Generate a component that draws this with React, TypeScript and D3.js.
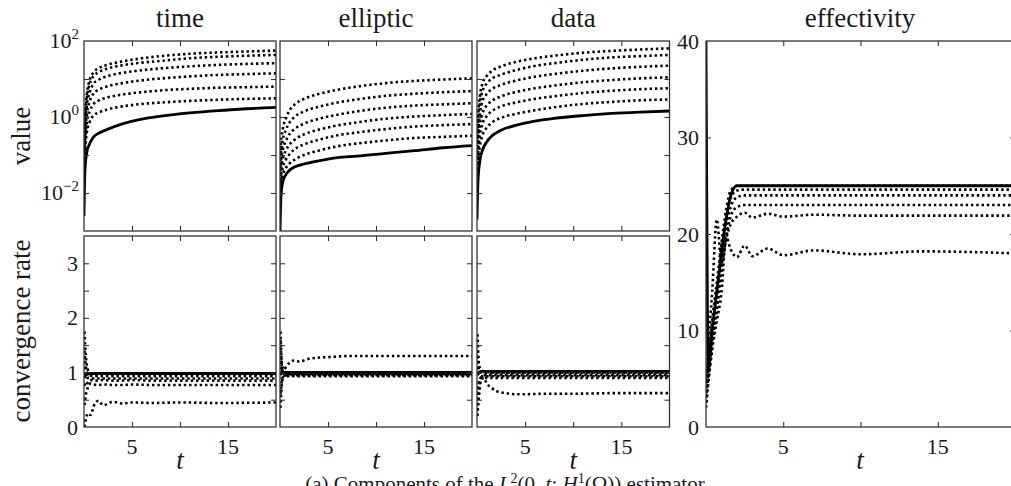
import { useRef, useEffect } from "react";
import * as d3 from "d3";

// time grids
const T_VALUE = [0, 0.1, 0.3, 0.6, 1, 1.5, 2.5, 4, 6, 8, 11, 14, 17, 20];
const T_RATE = [0.05, 0.2, 0.4, 0.7, 1, 1.5, 2, 3, 4, 5, 7, 10, 14, 20];
const T_EFF = [0, 0.15, 0.4, 0.7, 1, 1.3, 1.6, 2, 2.5, 3, 4, 5, 7, 10, 14, 20];

// top row: estimator components (log scale)
const TIME_VALUE_SOLID = [0.0025, 0.04, 0.12, 0.2, 0.3, 0.37, 0.48, 0.66, 0.88, 1.05, 1.28, 1.48, 1.65, 1.8];
const TIME_VALUE_DOTTED = [
  [0.11, 0.9, 4, 9.5, 15, 19, 24, 29, 35, 40, 46, 50, 53, 56],
  [0.09, 0.7, 3.2, 7.5, 12, 15, 19, 23, 27, 30, 35, 38.5, 41, 43],
  [0.07, 0.45, 2.0, 4.5, 7.5, 9.5, 12, 14.5, 17, 19, 21.5, 23.5, 25, 26],
  [0.06, 0.3, 1.2, 2.6, 4.2, 5.2, 6.5, 7.8, 9.2, 10.3, 11.7, 12.8, 13.5, 14.1],
  [0.05, 0.2, 0.7, 1.4, 2.2, 2.7, 3.3, 3.9, 4.5, 5.0, 5.5, 5.9, 6.1, 6.3],
  [0.04, 0.12, 0.4, 0.75, 1.1, 1.3, 1.6, 1.9, 2.2, 2.4, 2.65, 2.85, 3.0, 3.1],
];
const ELLIPTIC_VALUE_SOLID = [0.0008, 0.008, 0.02, 0.03, 0.04, 0.048, 0.058, 0.07, 0.085, 0.093, 0.11, 0.13, 0.155, 0.176];
const ELLIPTIC_VALUE_DOTTED = [
  [0.05, 0.2, 0.5, 0.9, 1.5, 2.1, 3.0, 4.0, 5.2, 6.3, 7.8, 8.9, 9.7, 10.4],
  [0.03, 0.11, 0.26, 0.45, 0.72, 1.0, 1.4, 1.85, 2.4, 2.9, 3.6, 4.1, 4.5, 4.8],
  [0.02, 0.065, 0.14, 0.23, 0.36, 0.48, 0.67, 0.89, 1.15, 1.4, 1.75, 2.0, 2.15, 2.3],
  [0.012, 0.04, 0.08, 0.13, 0.19, 0.25, 0.35, 0.46, 0.6, 0.72, 0.9, 1.03, 1.12, 1.2],
  [0.008, 0.025, 0.048, 0.075, 0.105, 0.14, 0.19, 0.25, 0.33, 0.39, 0.48, 0.56, 0.61, 0.65],
  [0.005, 0.016, 0.03, 0.045, 0.06, 0.075, 0.1, 0.13, 0.17, 0.2, 0.24, 0.28, 0.3, 0.32],
];
const DATA_VALUE_SOLID = [0.002, 0.02, 0.07, 0.14, 0.22, 0.31, 0.45, 0.6, 0.78, 0.92, 1.09, 1.24, 1.35, 1.44];
const DATA_VALUE_DOTTED = [
  [0.1, 0.8, 3.5, 8, 12, 16, 21.5, 28, 35, 41, 49, 55, 60, 64],
  [0.08, 0.5, 2.2, 5, 7.5, 10, 13, 17, 22, 26, 32, 37, 40, 43],
  [0.06, 0.3, 1.2, 2.7, 4, 5.3, 7, 9, 11.5, 13.5, 16.5, 19, 21, 22.4],
  [0.04, 0.16, 0.6, 1.3, 2.0, 2.6, 3.5, 4.5, 5.7, 6.7, 8.2, 9.4, 10.4, 11.1],
  [0.03, 0.1, 0.33, 0.7, 1.05, 1.4, 1.9, 2.4, 3.0, 3.5, 4.3, 4.9, 5.4, 5.7],
  [0.02, 0.06, 0.17, 0.35, 0.52, 0.7, 0.95, 1.2, 1.5, 1.8, 2.2, 2.5, 2.75, 2.9],
];

// bottom row: convergence rates
const TIME_RATE_SOLID = [0.9, 0.95, 0.97, 0.98, 0.98, 0.98, 0.98, 0.98, 0.98, 0.98, 0.98, 0.98, 0.98, 0.98];
const TIME_RATE_DOTTED = [
  [1.75, 1.3, 1.05, 0.99, 0.97, 0.96, 0.96, 0.96, 0.96, 0.96, 0.96, 0.96, 0.96, 0.96],
  [1.4, 1.1, 0.97, 0.94, 0.93, 0.93, 0.93, 0.93, 0.93, 0.93, 0.93, 0.93, 0.93, 0.93],
  [1.1, 0.95, 0.9, 0.9, 0.89, 0.89, 0.89, 0.89, 0.89, 0.89, 0.89, 0.89, 0.89, 0.89],
  [0.8, 0.75, 0.82, 0.86, 0.85, 0.85, 0.86, 0.85, 0.85, 0.86, 0.85, 0.85, 0.85, 0.85],
  [0.4, 0.6, 0.72, 0.8, 0.78, 0.77, 0.78, 0.77, 0.77, 0.78, 0.77, 0.77, 0.77, 0.77],
  [0.0, 0.15, 0.25, 0.22, 0.38, 0.48, 0.4, 0.46, 0.43, 0.45, 0.44, 0.45, 0.44, 0.45],
];
const ELLIPTIC_RATE_SOLID = [0.95, 1.02, 1.0, 1.0, 1.0, 1.0, 1.0, 1.0, 1.0, 1.0, 1.0, 1.0, 1.0, 1.0];
const ELLIPTIC_RATE_DOTTED = [
  [1.6, 1.15, 1.05, 1.12, 1.18, 1.22, 1.2, 1.25, 1.27, 1.28, 1.3, 1.3, 1.3, 1.3],
  [1.75, 1.1, 0.98, 1.0, 0.99, 0.99, 0.99, 0.99, 0.99, 0.99, 0.99, 0.99, 0.99, 0.99],
  [0.35, 0.8, 0.92, 0.96, 0.97, 0.97, 0.97, 0.97, 0.97, 0.97, 0.97, 0.97, 0.97, 0.97],
  [1.3, 0.9, 0.94, 0.95, 0.95, 0.95, 0.95, 0.95, 0.95, 0.95, 0.95, 0.95, 0.95, 0.95],
  [0.6, 0.85, 0.92, 0.93, 0.93, 0.93, 0.93, 0.93, 0.93, 0.93, 0.93, 0.93, 0.93, 0.93],
  [1.2, 1.05, 0.98, 0.97, 0.96, 0.96, 0.96, 0.96, 0.96, 0.96, 0.96, 0.96, 0.96, 0.96],
];
const DATA_RATE_SOLID = [0.95, 1.0, 1.02, 1.02, 1.02, 1.02, 1.02, 1.02, 1.02, 1.02, 1.02, 1.02, 1.02, 1.02];
const DATA_RATE_DOTTED = [
  [1.7, 1.15, 1.05, 1.02, 1.01, 1.0, 1.0, 1.0, 1.0, 1.0, 1.0, 1.0, 1.0, 1.0],
  [1.4, 1.05, 1.0, 0.99, 0.98, 0.98, 0.98, 0.98, 0.98, 0.98, 0.98, 0.98, 0.98, 0.98],
  [0.2, 0.7, 0.9, 0.95, 0.95, 0.95, 0.95, 0.95, 0.95, 0.95, 0.95, 0.95, 0.95, 0.95],
  [1.1, 0.95, 0.93, 0.93, 0.93, 0.93, 0.93, 0.93, 0.93, 0.93, 0.93, 0.93, 0.93, 0.93],
  [0.6, 0.85, 0.9, 0.9, 0.9, 0.9, 0.9, 0.9, 0.9, 0.9, 0.9, 0.9, 0.9, 0.9],
  [0.3, 0.55, 0.85, 0.9, 0.8, 0.72, 0.66, 0.62, 0.6, 0.6, 0.61, 0.61, 0.62, 0.62],
];

// effectivity
const EFF_SOLID = [40, 6, 10, 14, 18, 21.5, 24, 25, 25, 25, 25, 25, 25, 25, 25, 25];
const EFF_DOTTED = [
  [5, 7, 11, 15, 19, 22.5, 24.5, 25, 25, 25, 25, 25, 25, 25, 25, 25],
  [4, 6, 10, 14, 18, 21.5, 23.7, 24.5, 24.6, 24.6, 24.6, 24.6, 24.6, 24.6, 24.6, 24.6],
  [3.5, 5.5, 9, 13, 17, 20.5, 22.8, 23.8, 24.0, 24.0, 24.0, 24.0, 24.0, 24.0, 24.0, 24.0],
  [3, 5, 8.5, 12, 16, 19.5, 21.8, 22.8, 23.0, 23.0, 23.0, 23.0, 23.0, 23.0, 23.0, 23.0],
  [2.5, 8, 14, 21.5, 17, 19.5, 21, 21.8, 22.2, 21.7, 22.1, 21.8, 22.0, 21.9, 21.9, 21.9],
  [2, 4.5, 8, 11, 13.9, 19.7, 18.4, 17.6, 18.8, 17.7, 18.5, 17.8, 18.3, 17.9, 18.2, 18.0],
];

const TITLES = ["time", "elliptic", "data"];
const X_TICKS = [5, 10, 15];
const X_TICK_LABELS = [5, 15];
const LOG_TICKS = [0.01, 0.1, 1, 10];
const LOG_LABELS = [100, 1, 0.01];
const LOG_EXPONENTS = ["2", "0", "−2"];
const RATE_TICKS = [0.5, 1, 1.5, 2, 2.5, 3];
const RATE_LABELS = [0, 1, 2, 3];
const EFF_TICKS = [10, 20, 30];
const EFF_LABELS = [0, 10, 20, 30, 40];

const FONT = "Liberation Serif, DejaVu Serif, serif";
const COL_X: [number, number][] = [[84, 276], [280, 472], [477, 669.5]];
const TOP_Y: [number, number] = [231, 41];
const BOT_Y: [number, number] = [427, 236];
const EFF_X: [number, number] = [706, 1015];

export default function App() {
  const ref = useRef<SVGSVGElement>(null);
  useEffect(() => {
    if (!ref.current) return;
    const svg = d3.select(ref.current);
    svg.selectAll("*").remove();
    let clipId = 0;

    const columns = [
      { vs: TIME_VALUE_SOLID, vd: TIME_VALUE_DOTTED, rs: TIME_RATE_SOLID, rd: TIME_RATE_DOTTED },
      { vs: ELLIPTIC_VALUE_SOLID, vd: ELLIPTIC_VALUE_DOTTED, rs: ELLIPTIC_RATE_SOLID, rd: ELLIPTIC_RATE_DOTTED },
      { vs: DATA_VALUE_SOLID, vd: DATA_VALUE_DOTTED, rs: DATA_RATE_SOLID, rd: DATA_RATE_DOTTED },
    ];

    const text = (x: number, y: number, size: number, s: string | number, anchor = "middle") =>
      svg.append("text").attr("x", x).attr("y", y).attr("text-anchor", anchor)
        .style("font-family", FONT).style("font-size", `${size}px`).attr("fill", "#1a1a1a").text(s);

    function panel(x: any, y: any, yTicks: number[], ts: number[], solid: number[], dotted: number[][]) {
      const [x0, x1] = x.range();
      const [yb, yt] = y.range();
      const id = `clip${clipId++}`;
      svg.append("clipPath").attr("id", id).append("rect")
        .attr("x", x0).attr("y", yt).attr("width", x1 - x0).attr("height", yb - yt);
      const g = svg.append("g");
      const lines = g.append("g").attr("clip-path", `url(#${id})`);
      const line = d3.line<number>().x((_, i) => x(ts[i])).y(d => y(d)).curve(d3.curveMonotoneX);
      dotted.forEach(s => {
        lines.append("path").attr("d", line(s)).attr("fill", "none").attr("stroke", "#000")
          .attr("stroke-width", 2.6).attr("stroke-dasharray", "2.4 2.9");
      });
      lines.append("path").attr("d", line(solid)).attr("fill", "none").attr("stroke", "#000")
        .attr("stroke-width", 2.8).attr("stroke-linejoin", "round");

      const axes = [
        g.append("g").attr("transform", `translate(0,${yb})`).call(d3.axisBottom(x).tickValues(X_TICKS).tickSize(-5).tickFormat(() => "")),
        g.append("g").attr("transform", `translate(0,${yt})`).call(d3.axisTop(x).tickValues(X_TICKS).tickSize(-5).tickFormat(() => "")),
        g.append("g").attr("transform", `translate(${x0},0)`).call(d3.axisLeft(y).tickValues(yTicks).tickSize(-5).tickFormat(() => "")),
        g.append("g").attr("transform", `translate(${x1},0)`).call(d3.axisRight(y).tickValues(yTicks).tickSize(-5).tickFormat(() => "")),
      ];
      axes.forEach(a => {
        a.select(".domain").remove();
        a.selectAll(".tick line").attr("stroke", "#333").attr("stroke-width", 1.1);
      });
      g.append("rect").attr("x", x0).attr("y", yt).attr("width", x1 - x0).attr("height", yb - yt)
        .attr("fill", "none").attr("stroke", "#333").attr("stroke-width", 1.3);
    }

    function xLabels(x: any, cx: number) {
      X_TICK_LABELS.forEach(v => text(x(v), 454, 22, v));
      text(cx, 469, 27, "t").style("font-style", "italic");
    }

    columns.forEach((c, i) => {
      const x = d3.scaleLinear().domain([0, 20]).range(COL_X[i]);
      const yLog = d3.scaleLog().domain([1e-3, 1e2]).range(TOP_Y);
      const yRate = d3.scaleLinear().domain([0, 3.5]).range(BOT_Y);
      panel(x, yLog, LOG_TICKS, T_VALUE, c.vs, c.vd);
      panel(x, yRate, RATE_TICKS, T_RATE, c.rs, c.rd);
      const cx = (COL_X[i][0] + COL_X[i][1]) / 2;
      text(cx, 27, 27, TITLES[i]);
      xLabels(x, cx);
      if (i === 0) {
        LOG_LABELS.forEach((v, k) => {
          const t = text(79, yLog(v) + 7, 22, "", "end");
          t.append("tspan").text("10");
          t.append("tspan").attr("dy", -9).style("font-size", "15px").text(LOG_EXPONENTS[k]);
        });
        RATE_LABELS.forEach(v => text(78, yRate(v) + 7.5, 22, v, "end"));
      }
    });

    // effectivity
    const xe = d3.scaleLinear().domain([0, 20]).range(EFF_X);
    const ye = d3.scaleLinear().domain([0, 40]).range([427, 41]);
    panel(xe, ye, EFF_TICKS, T_EFF, EFF_SOLID, EFF_DOTTED);
    text(860, 27, 27, "effectivity");
    xLabels(xe, 860);
    EFF_LABELS.forEach(v => text(699, ye(v) + 7.5, 22, v, "end"));

    // axis titles
    ([["value", 136], ["convergence rate", 331]] as [string, number][]).forEach(([s, cy]) => {
      text(0, 0, 27, s).attr("x", null).attr("y", null).attr("transform", `translate(30,${cy}) rotate(-90)`);
    });

    // caption (cut at the bottom edge)
    const cap = text(505, 491, 21, "");
    cap.append("tspan").text("(a) Components of the ");
    cap.append("tspan").style("font-style", "italic").text("L");
    cap.append("tspan").attr("dy", -8).style("font-size", "14px").text("2");
    cap.append("tspan").attr("dy", 8).text("(0, ");
    cap.append("tspan").style("font-style", "italic").text("t");
    cap.append("tspan").text("; ");
    cap.append("tspan").style("font-style", "italic").text("H");
    cap.append("tspan").attr("dy", -8).style("font-size", "14px").text("1");
    cap.append("tspan").attr("dy", 8).text("(Ω)) estimator");
  }, []);

  return (
    <div style={{ position: "absolute", left: 0, top: 0 }}>
      <svg ref={ref} width={1011} height={486} style={{ display: "block", background: "#fff", fontFamily: FONT }} />
    </div>
  );
}
